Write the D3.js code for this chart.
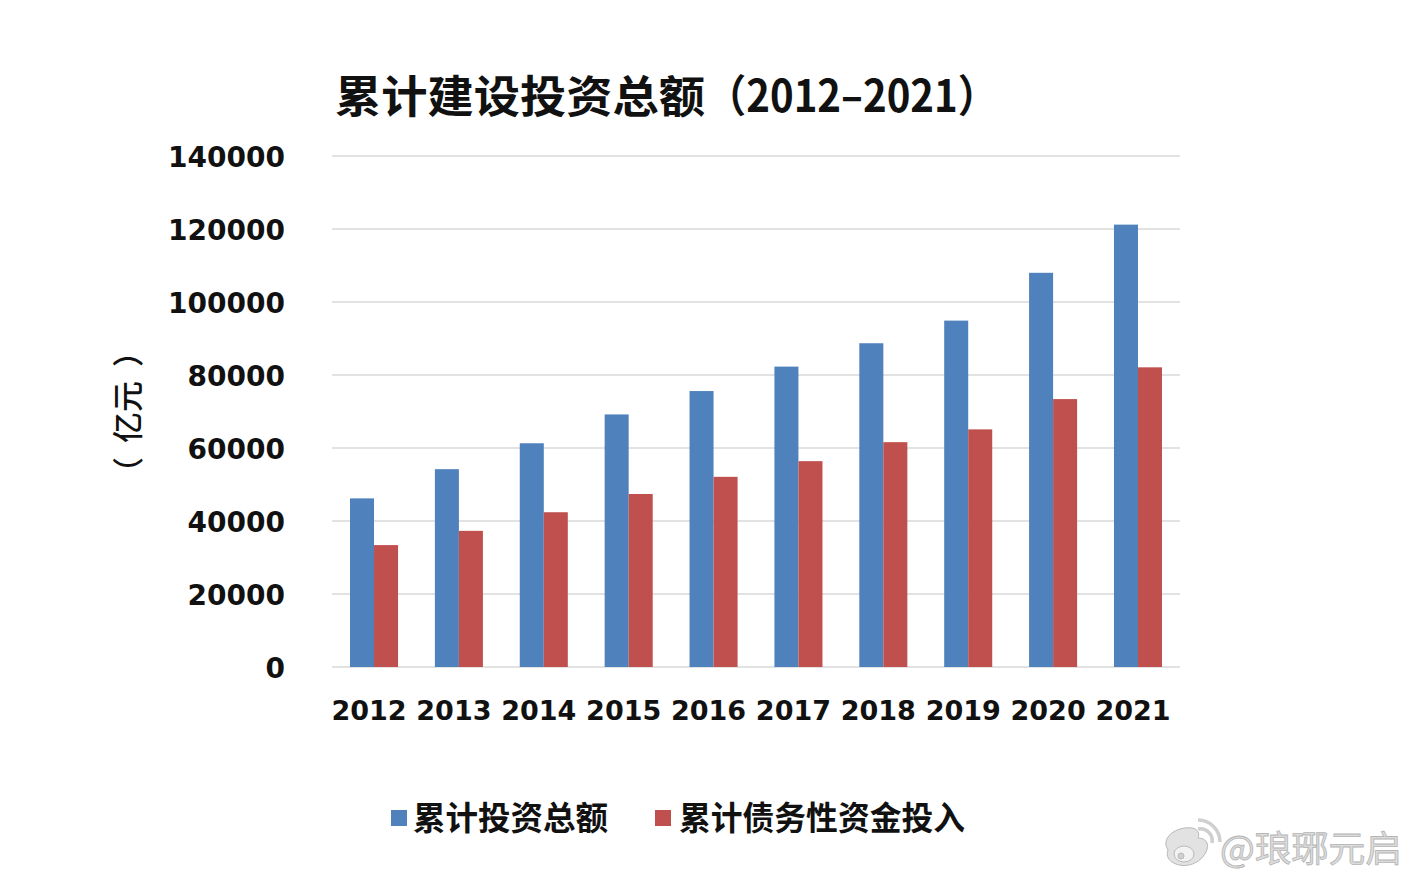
<!DOCTYPE html>
<html>
<head>
<meta charset="utf-8">
<script src="https://cdn.jsdelivr.net/npm/d3@7/dist/d3.min.js"></script>
<style>
  html, body { margin: 0; padding: 0; background: #ffffff; }
  svg { display: block; }
</style>
</head>
<body>
<svg id="chart" width="1417" height="881"></svg>
<script>
const years = ["2012","2013","2014","2015","2016","2017","2018","2019","2020","2021"];
const totalInvestment = [46200, 54200, 61300, 69200, 75600, 82300, 88700, 94900, 108000, 121200];
const debtFunding = [33400, 37300, 42400, 47400, 52100, 56400, 61600, 65100, 73400, 82100];
const yTicks = [0, 20000, 40000, 60000, 80000, 100000, 120000, 140000];
const seriesNames = ["累计投资总额", "累计债务性资金投入"];
const seriesColors = ["#4f81bd", "#c0504d"];
const titleMain = "累计建设投资总额";
const titleRange = "（2012–2021）";
const yAxisLabelParts = ["（", "亿元", "）"];
const watermark = "@琅琊元启";

const svg = d3.select("#chart");
const plotLeft = 332, plotRight = 1180, plotTop = 156, plotBottom = 667;

const x = d3.scaleBand().domain(years).range([plotLeft, plotRight]).paddingInner(0.434).paddingOuter(0.212);
const xs = d3.scaleBand().domain([0, 1]).range([0, x.bandwidth()]);
const y = d3.scaleLinear().domain([0, 140000]).range([plotBottom, plotTop]);

// gridlines
svg.append("g").selectAll("line").data(yTicks).join("line")
  .attr("x1", plotLeft).attr("x2", plotRight)
  .attr("y1", d => y(d)).attr("y2", d => y(d))
  .attr("stroke", "#d9d9d9").attr("stroke-width", 1.5);

// y tick labels
const yAxis = d3.axisLeft(y).tickValues(yTicks).tickSize(0).tickPadding(0).tickFormat(d3.format("d"));
const gy = svg.append("g").attr("transform", `translate(${285},0)`).call(yAxis);
gy.select(".domain").remove();
gy.selectAll("text")
  .attr("font-family", "'DejaVu Sans', sans-serif")
  .attr("font-weight", "bold")
  .attr("font-size", 28)
  .attr("fill", "#111")
  .attr("dy", "0.36em");

// bars
const data = years.map((yr, i) => ({ yr, vals: [totalInvestment[i], debtFunding[i]] }));
const groups = svg.append("g").selectAll("g").data(data).join("g")
  .attr("transform", d => `translate(${x(d.yr)},0)`);
groups.selectAll("rect").data(d => d.vals.map((v, k) => ({ v, k }))).join("rect")
  .attr("x", d => xs(d.k))
  .attr("width", xs.bandwidth())
  .attr("y", d => y(d.v))
  .attr("height", d => y(0) - y(d.v))
  .attr("fill", d => seriesColors[d.k]);

// x labels
const xAxis = d3.axisBottom(x).tickSize(0).tickPadding(0);
const gx = svg.append("g").attr("transform", `translate(0,${720})`).call(xAxis);
gx.select(".domain").remove();
gx.selectAll("text")
  .attr("font-family", "'DejaVu Sans', sans-serif")
  .attr("font-weight", "bold")
  .attr("font-size", 27)
  .attr("fill", "#111")
  .attr("dx", -5)
  .attr("dy", 0);

// title
svg.append("text")
  .attr("x", 335).attr("y", 113)
  .attr("font-family", "'Noto Sans CJK SC', sans-serif")
  .attr("font-weight", "bold")
  .attr("font-size", 44)
  .attr("fill", "#111")
  .attr("textLength", 370)
  .attr("lengthAdjust", "spacingAndGlyphs")
  .text(titleMain);
svg.append("text")
  .attr("x", 706).attr("y", 112)
  .attr("font-family", "'Noto Sans CJK SC', sans-serif")
  .attr("font-weight", "bold")
  .attr("font-size", 44)
  .attr("fill", "#111")
  .attr("textLength", 292)
  .attr("lengthAdjust", "spacingAndGlyphs")
  .text(titleRange);

// y axis label (rotated)
const yl = svg.append("text")
  .attr("transform", "translate(139,412) rotate(-90)")
  .attr("text-anchor", "middle")
  .attr("font-family", "'Noto Sans CJK SC', sans-serif")
  .attr("font-weight", 500)
  .attr("font-size", 31)
  .attr("fill", "#111");
yl.selectAll("tspan").data(yAxisLabelParts).join("tspan")
  .attr("dx", (d, i) => i === 0 ? 0 : 14)
  .text(d => d);

// legend
const legendItems = [
  { sx: 391, tx: 413, tl: 195 },
  { sx: 655, tx: 679, tl: 286 }
];
legendItems.forEach((li, i) => {
  svg.append("rect").attr("x", li.sx).attr("y", 810).attr("width", 16).attr("height", 16)
    .attr("fill", seriesColors[i]);
  svg.append("text")
    .attr("x", li.tx).attr("y", 830)
    .attr("font-family", "'Noto Sans CJK SC', sans-serif")
    .attr("font-weight", "bold")
    .attr("font-size", 33)
    .attr("fill", "#111")
    .attr("textLength", li.tl)
    .attr("lengthAdjust", "spacingAndGlyphs")
    .text(seriesNames[i]);
});

// watermark (weibo logo + handle)
const wm = svg.append("g").attr("fill", "#e2e2e2").attr("stroke", "#b9b9b9").attr("stroke-width", 1);
wm.append("path")
  .attr("d", "M1168,850 C1160,838 1176,826 1192,828 C1198,829 1200,834 1198,838 C1206,838 1210,844 1206,852 C1200,864 1186,868 1176,864 C1168,861 1166,856 1168,850 Z");
wm.append("ellipse").attr("cx", 1184).attr("cy", 854).attr("rx", 10).attr("ry", 8)
  .attr("fill", "#f2f2f2");
wm.append("circle").attr("cx", 1181).attr("cy", 856).attr("r", 3).attr("fill", "#cfcfcf");
wm.append("path").attr("fill", "none").attr("stroke-width", 3.5).attr("stroke", "#cfcfcf")
  .attr("d", "M1198,829 A12,12 0 0 1 1212,843");
wm.append("path").attr("fill", "none").attr("stroke-width", 3.5).attr("stroke", "#cfcfcf")
  .attr("d", "M1198,820 A22,22 0 0 1 1220,842");
svg.append("text")
  .attr("x", 1220).attr("y", 862)
  .attr("font-family", "'Noto Sans CJK SC', sans-serif")
  .attr("font-size", 36)
  .attr("fill", "#dcdcdc")
  .attr("stroke", "#b5b5b5")
  .attr("stroke-width", 0.8)
  .attr("textLength", 182)
  .attr("lengthAdjust", "spacingAndGlyphs")
  .text(watermark);
</script>
</body>
</html>
